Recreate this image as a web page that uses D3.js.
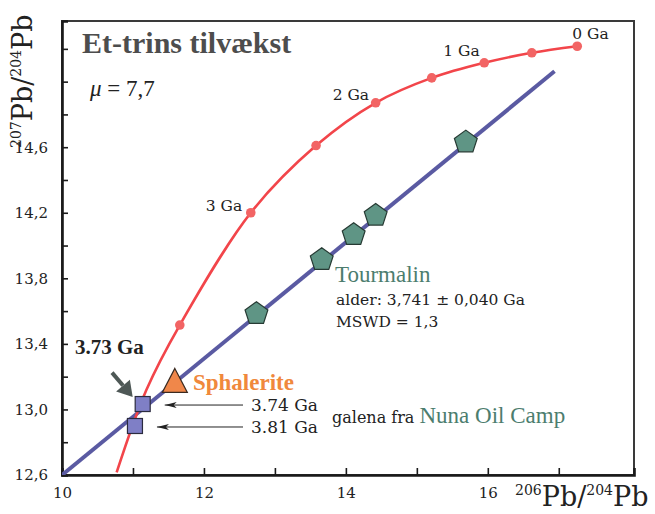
<!DOCTYPE html>
<html>
<head>
<meta charset="utf-8">
<script src="https://cdn.jsdelivr.net/npm/d3@7"></script>
<style>
  body { margin: 0; background: #fff; }
  svg { display: block; }
</style>
</head>
<body>
<div id="chart"></div>
<script>
// growth curve (mu = 7.7), ages in Ga, null = unmarked point
const curveAge = [0, 0.5, 1, 1.5, 2, 2.5, 3, 3.5, null, null]
const curveX = [17.26, 16.62, 15.95, 15.21, 14.42, 13.58, 12.66, 11.66, 11.19, 10.77]
const curveY = [15.216, 15.176, 15.115, 15.023, 14.871, 14.610, 14.200, 13.515, 13.12, 12.616]
const curveLabels = ['0 Ga', '1 Ga', '2 Ga', '3 Ga']
const curveLabelAge = [0, 1, 2, 3]

// isochron end points
const isoX = [10, 16.94]
const isoY = [12.6, 15.063]

// tourmalin
const tourX = [12.74, 13.66, 14.11, 14.42, 15.69]
const tourY = [13.590, 13.920, 14.072, 14.190, 14.637]

// galena
const galX = [11.137, 11.028]
const galY = [13.033, 12.899]
const galLabels = ['3.74 Ga', '3.81 Ga']

// sphalerite
const sphX = [11.59]
const sphY = [13.171]

const xTicks = [10, 11, 12, 13, 14, 15, 16, 17]
const xLabels = [10, 12, 14, 16]
const yTicks = [12.6, 12.8, 13.0, 13.2, 13.4, 13.6, 13.8, 14.0, 14.2, 14.4, 14.6, 14.8, 15.0, 15.2]
const yLabels = [12.6, 13.0, 13.4, 13.8, 14.2, 14.6]

const margin = { top: 21, right: 21, bottom: 39, left: 62 }
const width = 655 - margin.left - margin.right
const height = 514 - margin.top - margin.bottom

const serif = "'Liberation Serif', 'Times New Roman', serif"
const wide = "'DejaVu Serif', serif"

const xScale = d3.scaleLinear().domain([10, 18.06]).range([0, width])
const yScale = d3.scaleLinear().domain([12.6, 15.37]).range([height, 0])

const svg0 = d3.select('#chart').append('svg')
    .attr('width', 655)
    .attr('height', 514)

const svg = svg0.append('g')
    .attr('transform', `translate(${margin.left},${margin.top})`)

const defs = svg.append('defs')
defs.append('clipPath').attr('id', 'clip')
    .append('rect').attr('width', width).attr('height', height)

// frame
svg.append('rect')
    .attr('width', width)
    .attr('height', height)
    .attr('fill', 'none')
    .attr('stroke', '#3a3a3a')
    .attr('stroke-width', 2)

const fmt = d => d3.format('.1f')(d).replace('.', ',')

const yAxis = d3.axisLeft(yScale)
    .tickValues(yTicks)
    .tickSize(-6)
    .tickPadding(14)
    .tickFormat(d => yLabels.some(v => Math.abs(v - d) < 1e-6) ? fmt(d) : '')

const xAxis = d3.axisBottom(xScale)
    .tickValues(xTicks)
    .tickSize(-7)
    .tickPadding(12)
    .tickFormat(d => xLabels.includes(d) ? d : '')

const gy = svg.append('g').call(yAxis)
const gx = svg.append('g').attr('transform', `translate(0,${height})`).call(xAxis)

for (const g of [gx, gy]) {
    g.attr('font-family', null)
    g.select('.domain').attr('stroke', '#1a1a1a').attr('stroke-width', 2.6)
    g.selectAll('.tick line').attr('stroke', '#1a1a1a').attr('stroke-width', 1.6)
    g.selectAll('.tick text')
        .attr('fill', '#222')
        .style('font-family', wide)
        .style('font-size', '15px')
}
gx.selectAll('.tick text').attr('dy', 0).attr('y', 23)

// axis titles
const xt = svg0.append('text')
    .attr('x', 515)
    .attr('y', 506)
    .attr('fill', '#222')
    .style('font-family', wide)
xt.append('tspan').style('font-size', '14px').attr('dy', -11).text('206')
xt.append('tspan').style('font-size', '27px').attr('dy', 11).text('Pb/')
xt.append('tspan').style('font-size', '14px').attr('dy', -11).text('204')
xt.append('tspan').style('font-size', '27px').attr('dy', 11).text('Pb')

const yt = svg0.append('text')
    .attr('transform', 'translate(32,148) rotate(-90)')
    .attr('fill', '#222')
    .style('font-family', wide)
yt.append('tspan').style('font-size', '14px').attr('dy', -11).text('207')
yt.append('tspan').style('font-size', '27px').attr('dy', 11).text('Pb/')
yt.append('tspan').style('font-size', '14px').attr('dy', -11).text('204')
yt.append('tspan').style('font-size', '27px').attr('dy', 11).text('Pb')

// title + mu
svg0.append('text')
    .attr('x', 82)
    .attr('y', 53)
    .attr('fill', '#4d4d4d')
    .style('font-family', serif)
    .style('font-weight', 'bold')
    .style('font-size', '30px')
    .text('Et-trins tilvækst')

const mu = svg0.append('text')
    .attr('x', 90)
    .attr('y', 96)
    .attr('fill', '#222')
    .style('font-family', serif)
    .style('font-size', '23px')
mu.append('tspan').style('font-style', 'italic').text('μ')
mu.append('tspan').text(' = 7,7')

const plot = svg.append('g').attr('clip-path', 'url(#clip)')

// isochron
const iso = isoX.map((x, i) => ({ x, y: isoY[i] }))
plot.append('path')
    .datum(iso)
    .attr('fill', 'none')
    .attr('stroke', '#5a5aa2')
    .attr('stroke-width', 4)
    .attr('d', d3.line().x(d => xScale(d.x)).y(d => yScale(d.y)))

// growth curve
const curve = curveX.map((x, i) => ({ x, y: curveY[i], age: curveAge[i] }))
plot.append('path')
    .datum(curve)
    .attr('fill', 'none')
    .attr('stroke', '#f2454a')
    .attr('stroke-width', 2.6)
    .attr('d', d3.line().curve(d3.curveCatmullRom).x(d => xScale(d.x)).y(d => yScale(d.y)))

plot.selectAll('.gdot')
    .data(curve.filter(d => d.age !== null))
    .enter().append('circle')
    .attr('class', 'gdot')
    .attr('r', 4.8)
    .attr('cx', d => xScale(d.x))
    .attr('cy', d => yScale(d.y))
    .attr('fill', '#f26464')

const labelOffset = { 0: [-5, -7], 1: [-41, -7], 2: [-43, -3], 3: [-45, -2] }
svg.selectAll('.glabel')
    .data(curveLabelAge)
    .enter().append('text')
    .attr('class', 'glabel')
    .attr('x', d => xScale(curve.find(c => c.age === d).x) + labelOffset[d][0])
    .attr('y', d => yScale(curve.find(c => c.age === d).y) + labelOffset[d][1])
    .attr('fill', '#222')
    .style('font-family', wide)
    .style('font-size', '15.5px')
    .text((d, i) => curveLabels[i])

// tourmalin pentagons
const pent = r => {
    const pts = d3.range(5).map(k => {
        const a = -Math.PI / 2 + k * 2 * Math.PI / 5
        return [r * Math.cos(a), r * Math.sin(a)]
    })
    return 'M' + pts.join('L') + 'Z'
}
svg.selectAll('.tour')
    .data(tourX.map((x, i) => ({ x, y: tourY[i] })))
    .enter().append('path')
    .attr('class', 'tour')
    .attr('transform', d => `translate(${xScale(d.x)},${yScale(d.y) + 1})`)
    .attr('d', pent(12))
    .attr('fill', '#5f9585')
    .attr('stroke', '#263a33')
    .attr('stroke-width', 1.2)

// galena squares
const gal = galX.map((x, i) => ({ x, y: galY[i], label: galLabels[i] }))
svg.selectAll('.gal')
    .data(gal)
    .enter().append('rect')
    .attr('class', 'gal')
    .attr('x', d => xScale(d.x) - 7.5)
    .attr('y', d => yScale(d.y) - 7.5)
    .attr('width', 15)
    .attr('height', 15)
    .attr('fill', '#7f7fc6')
    .attr('stroke', '#2b2b3f')
    .attr('stroke-width', 1.2)

// sphalerite triangle
svg.selectAll('.sph')
    .data(sphX.map((x, i) => ({ x, y: sphY[i] })))
    .enter().append('path')
    .attr('class', 'sph')
    .attr('transform', d => `translate(${xScale(d.x)},${yScale(d.y)})`)
    .attr('d', 'M0,-13L12.5,11L-12.5,11Z')
    .attr('fill', '#f0874a')
    .attr('stroke', '#3a2a20')
    .attr('stroke-width', 1.2)

// thin arrows to galena
defs.append('marker')
    .attr('id', 'head')
    .attr('viewBox', '0 0 12 6')
    .attr('refX', 12)
    .attr('refY', 3)
    .attr('markerWidth', 12)
    .attr('markerHeight', 6)
    .attr('markerUnits', 'userSpaceOnUse')
    .attr('orient', 'auto')
    .append('path')
    .attr('d', 'M0,0L12,3L0,6L3,3Z')
    .attr('fill', '#222')

svg.selectAll('.garrow')
    .data(gal)
    .enter().append('line')
    .attr('class', 'garrow')
    .attr('x1', 181)
    .attr('x2', d => xScale(d.x) + 22)
    .attr('y1', d => yScale(d.y) + 1)
    .attr('y2', d => yScale(d.y) + 1)
    .attr('stroke', '#222')
    .attr('stroke-width', 1)
    .attr('marker-end', 'url(#head)')

svg.selectAll('.glab')
    .data(gal)
    .enter().append('text')
    .attr('class', 'glab')
    .attr('x', 189)
    .attr('y', d => yScale(d.y) + 7)
    .attr('fill', '#222')
    .style('font-family', wide)
    .style('font-size', '17px')
    .text(d => d.label)

// big arrow to 3.73 Ga square
const s0 = gal[0]
const tipX = xScale(s0.x) - 10, tipY = yScale(s0.y) - 7
const ang = Math.atan2(26, 22)
const tailX = tipX - 32 * Math.cos(ang), tailY = tipY - 32 * Math.sin(ang)
const baseX = tipX - 15 * Math.cos(ang), baseY = tipY - 15 * Math.sin(ang)
svg.append('line')
    .attr('x1', tailX).attr('y1', tailY)
    .attr('x2', baseX).attr('y2', baseY)
    .attr('stroke', '#4e5856')
    .attr('stroke-width', 4)
const px = -Math.sin(ang) * 9, py = Math.cos(ang) * 9
svg.append('path')
    .attr('d', `M${tipX},${tipY}L${baseX + px},${baseY + py}L${baseX - px},${baseY - py}Z`)
    .attr('fill', '#4e5856')

svg0.append('text')
    .attr('x', 75)
    .attr('y', 354)
    .attr('fill', '#222')
    .style('font-family', serif)
    .style('font-weight', 'bold')
    .style('font-size', '21px')
    .text('3.73 Ga')

svg0.append('text')
    .attr('x', 193)
    .attr('y', 390)
    .attr('fill', '#f0883c')
    .style('font-family', serif)
    .style('font-weight', 'bold')
    .style('font-size', '23px')
    .text('Sphalerite')

// tourmalin text
svg0.append('text')
    .attr('x', 335)
    .attr('y', 282)
    .attr('fill', '#4c7d6e')
    .style('font-family', serif)
    .style('font-size', '23px')
    .text('Tourmalin')

svg0.append('text')
    .attr('x', 336)
    .attr('y', 305)
    .attr('fill', '#222')
    .style('font-family', wide)
    .style('font-size', '15.5px')
    .text('alder: 3,741 ± 0,040 Ga')

svg0.append('text')
    .attr('x', 336)
    .attr('y', 327)
    .attr('fill', '#222')
    .style('font-family', wide)
    .style('font-size', '15.5px')
    .text('MSWD = 1,3')

const nuna = svg0.append('text')
    .attr('x', 332)
    .attr('y', 423)
    .attr('fill', '#222')
nuna.append('tspan').style('font-family', wide).style('font-size', '16px').text('galena fra ')
nuna.append('tspan').attr('fill', '#4c7d6e').style('font-family', serif).style('font-size', '23px').text('Nuna Oil Camp')
</script>
</body>
</html>
